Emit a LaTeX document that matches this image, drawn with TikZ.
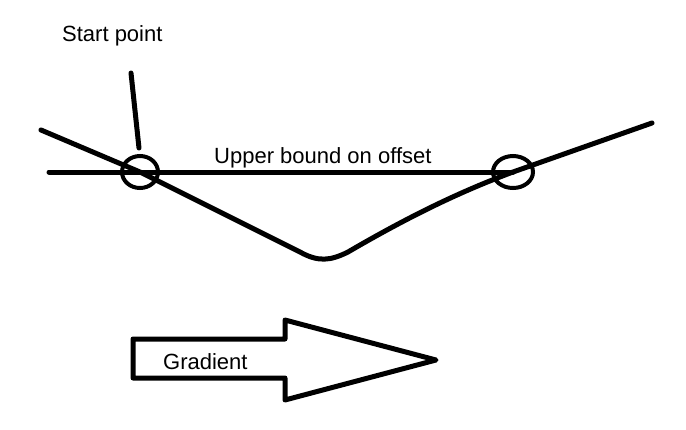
\documentclass[tikz,border=0pt]{standalone}
\usepackage{fontspec}
\setmainfont{Liberation Sans}
\usetikzlibrary{shapes.geometric}
\begin{document}
\begin{tikzpicture}[x=1pt,y=-1pt,
  thickline/.style={line width=5pt,line cap=round,line join=round},
  ring/.style={draw,ellipse,line width=4pt,inner sep=0pt,minimum width=#1,minimum height=32pt},
  lbl/.style={anchor=base west,inner sep=0pt,font=\fontsize{22}{26}\selectfont}]
\useasboundingbox (0,0) rectangle (686,429);
% labels
\node[lbl] (start) at (62,41) {Start point};
\node[lbl] (upper) at (214,163) {Upper bound on offset};
% circles
\node[ring=36pt] (c1) at (140,172) {};
\node[ring=40pt] (c2) at (513,172) {};
% pointer
\coordinate (p1) at (131,73);
\coordinate (p2) at (139,148);
\draw[thickline] (p1) -- (p2);
% horizontal bound
\coordinate (h1) at (49,172);
\draw[thickline] (h1) -- (c2.center);
% valley curve
\coordinate (v0) at (41,130);
\coordinate (v9) at (652,123);
\draw[thickline] (v0) -- (c1.center) -- (300,252)
  .. controls (318,262) and (330,261) .. (348,252)
  .. controls (420,210) and (470,188) .. (c2.center) -- (v9);
% gradient arrow
\draw[line width=5pt,line join=round] (133,339) -- (285,339) -- (285,320) -- (436,360)
  -- (285,400) -- (285,378) -- (133,378) -- cycle;
\node[lbl] (grad) at (163,369) {Gradient};
\end{tikzpicture}
\end{document}
